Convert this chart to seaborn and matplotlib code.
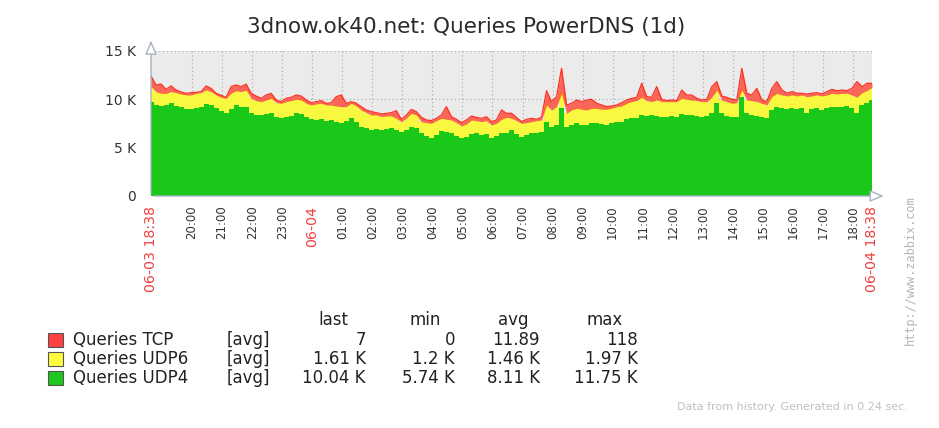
import pandas as pd
import seaborn as sns
import matplotlib.pyplot as plt
from matplotlib.patches import Rectangle

# values in thousands of queries, one every 10 minutes from 06-03 18:38
udp4_k = [
    9.76, 9.41, 9.31, 9.41, 9.59, 9.31, 9.17, 8.97, 8.97, 9.07,
    9.17, 9.52, 9.41, 9.07, 8.83, 8.55, 8.97, 9.41, 9.24, 9.24,
    8.55, 8.38, 8.38, 8.48, 8.62, 8.14, 8.04, 8.21, 8.28, 8.55,
    8.48, 8.14, 7.93, 7.86, 7.93, 7.79,
    7.86, 7.69, 7.52, 7.79, 8.04, 7.69, 7.17, 7.00, 6.83, 6.90,
    6.83, 6.90, 7.00, 6.83, 6.66, 6.83, 7.17, 7.00, 6.48, 6.21,
    5.97, 6.31, 6.76, 6.66, 6.48, 6.21, 5.97, 6.14, 6.41, 6.48,
    6.31, 6.41, 5.97, 6.21, 6.48, 6.55,
    6.83, 6.41, 6.14, 6.31, 6.48, 6.55, 6.66, 7.69, 7.17, 7.35,
    9.07, 7.17, 7.35, 7.52, 7.35, 7.35, 7.52, 7.52, 7.45, 7.35,
    7.52, 7.69, 7.69, 7.93, 8.04, 8.04, 8.38, 8.28, 8.38, 8.28,
    8.21, 8.21, 8.28, 8.14, 8.48, 8.38,
    8.38, 8.28, 8.21, 8.28, 8.55, 9.59, 8.55, 8.28, 8.14, 8.21,
    10.28, 8.55, 8.38, 8.28, 8.14, 8.04, 8.90, 9.24, 9.07, 8.97,
    9.07, 8.97, 9.07, 8.55, 8.97, 9.07, 8.90, 9.07, 9.24, 9.17,
    9.24, 9.31, 9.07, 8.55, 9.41, 9.59, 9.93,
]
udp6_k = [
    1.55, 1.38, 1.31, 1.21, 1.21, 1.38, 1.38, 1.48, 1.48, 1.55,
    1.52, 1.45, 1.38, 1.38, 1.38, 1.55, 1.66, 1.48, 1.55, 1.72,
    1.55, 1.48, 1.38, 1.45, 1.48, 1.52, 1.55, 1.55, 1.59, 1.45,
    1.45, 1.45, 1.48, 1.66, 1.66, 1.62,
    1.55, 1.62, 1.72, 1.45, 1.55, 1.62, 1.72, 1.62, 1.55, 1.48,
    1.38, 1.38, 1.28, 1.21, 1.03, 1.21, 1.38, 1.38, 1.21, 1.38,
    1.55, 1.48, 1.28, 1.28, 1.38, 1.38, 1.28, 1.31, 1.45, 1.31,
    1.38, 1.38, 1.38, 1.31, 1.45, 1.59,
    1.21, 1.38, 1.38, 1.28, 1.21, 1.24, 1.21, 1.72, 1.72, 1.90,
    1.55, 1.38, 1.55, 1.55, 1.62, 1.55, 1.55, 1.55, 1.52, 1.62,
    1.55, 1.55, 1.62, 1.66, 1.72, 1.83, 1.83, 1.59, 1.38, 1.66,
    1.55, 1.55, 1.48, 1.62, 1.62, 1.62,
    1.55, 1.59, 1.55, 1.48, 1.66, 1.38, 1.38, 1.48, 1.45, 1.45,
    0.69, 1.38, 1.48, 1.48, 1.45, 1.38, 1.38, 1.38, 1.38, 1.38,
    1.38, 1.38, 1.38, 1.72, 1.38, 1.38, 1.45, 1.38, 1.38, 1.38,
    1.38, 1.31, 1.38, 1.66, 1.28, 1.31, 1.31,
]
# how far the red TCP edge peaks above the averaged stack
tcp_peak_k = [
    1.10, 0.69, 0.97, 0.41, 0.59, 0.28, 0.21, 0.17, 0.24, 0.10,
    0.10, 0.41, 0.34, 0.17, 0.21, 0.10, 0.69, 0.59, 0.52, 0.62,
    0.52, 0.48, 0.34, 0.52, 0.52, 0.28, 0.17, 0.34, 0.34, 0.45,
    0.41, 0.34, 0.24, 0.24, 0.28, 0.17,
    0.24, 0.97, 1.21, 0.34, 0.17, 0.28, 0.34, 0.28, 0.34, 0.24,
    0.28, 0.28, 0.34, 0.79, 0.24, 0.34, 0.41, 0.34, 0.45, 0.28,
    0.28, 0.24, 0.34, 1.31, 0.34, 0.34, 0.34, 0.41, 0.41, 0.34,
    0.34, 0.41, 0.34, 0.34, 0.97, 0.41,
    0.52, 0.34, 0.17, 0.34, 0.34, 0.14, 0.28, 1.48, 0.86, 1.03,
    2.59, 0.86, 0.69, 0.86, 0.79, 1.03, 0.93, 0.52, 0.45, 0.28,
    0.24, 0.17, 0.34, 0.34, 0.34, 0.34, 1.45, 0.41, 0.45, 1.38,
    0.24, 0.10, 0.17, 0.10, 0.86, 0.45,
    0.52, 0.24, 0.17, 0.24, 1.10, 0.86, 0.41, 0.45, 0.41, 0.28,
    2.24, 0.69, 0.59, 1.38, 0.34, 0.34, 0.86, 1.21, 0.52, 0.28,
    0.34, 0.28, 0.17, 0.28, 0.28, 0.24, 0.21, 0.34, 0.41, 0.34,
    0.34, 0.28, 0.69, 1.62, 0.62, 0.76, 0.41,
]

legend_names = ["Queries TCP", "Queries UDP6", "Queries UDP4"]
legend_colors = ["#ff4040", "#ffff40", "#1ec81e"]
legend_cols = ["last", "min", "avg", "max"]
legend_vals = [
    ["7", "0", "11.89", "118"],
    ["1.61 K", "1.2 K", "1.46 K", "1.97 K"],
    ["10.04 K", "5.74 K", "8.11 K", "11.75 K"],
]
y_ticks = [0, 5, 10, 15]
y_labels = ["0", "5 K", "10 K", "15 K"]

start = pd.Timestamp("2015-06-03 18:38")
end = pd.Timestamp("2015-06-04 18:38")
df = pd.DataFrame({
    "time": pd.date_range(start, periods=len(udp4_k), freq="10min"),
    "udp4": udp4_k,
    "udp6": udp6_k,
    "tcp": tcp_peak_k,
})
df["s1"] = df["udp4"]
df["s2"] = df["s1"] + df["udp6"]
df["s3"] = df["s2"] + df["tcp"]

sns.set_theme(style="white")
plt.rcParams["font.family"] = ["DejaVu Sans"]

W, H = 939, 428
fig = plt.figure(figsize=(W / 100, H / 100), dpi=100)
ax = fig.add_axes([151 / W, 1 - 196 / H, 721 / W, 145 / H])
ax.set_facecolor("#ebebeb")

ax.fill_between(df["time"], 0, df["s1"], step="mid", color="#1ac81a", lw=0)
ax.fill_between(df["time"], df["s1"], df["s2"], step="mid", color="#f8f840", lw=0)
ax.fill_between(df["time"], df["s2"], df["s3"], color="#ff3a2a", lw=0, alpha=0.75)
sns.lineplot(data=df, x="time", y="s3", ax=ax, color="#ff3020", lw=0.9, legend=False)

ax.set_xlim(start, end)
ax.set_ylim(0, 15)
ax.set_xlabel("")
ax.set_ylabel("")

hours = pd.date_range("2015-06-03 20:00", "2015-06-04 18:00", freq="h")
for h in hours:
    ax.axvline(h, color="#a8a8a8", lw=0.8, ls=(0, (1, 2.5)), zorder=0.5)
ax.axvline(end, color="#a8a8a8", lw=0.8, ls=(0, (1, 2.5)), zorder=0.5)
for v in [5, 10, 15]:
    ax.axhline(v, color="#a8a8a8", lw=0.8, ls=(0, (1, 2.5)), zorder=0.5)

ticks = [start] + list(hours) + [end]
labels = ["06-03 18:38"] + ["06-04" if h.hour == 0 else h.strftime("%H:%M") for h in hours] + ["06-04 18:38"]
ax.set_xticks(ticks)
ax.set_xticklabels(labels, rotation=90, va="top", ha="center", fontsize=8.5, color="#333333")
for lab, t in zip(ax.get_xticklabels(), ticks):
    if t in (start, end) or t.hour == 0 and t.minute == 0:
        lab.set_color("#f04040")
        lab.set_fontsize(10.2)
ax.tick_params(axis="x", length=0, pad=7)

ax.set_yticks(y_ticks)
ax.set_yticklabels(y_labels, fontsize=10, color="#333333")
ax.tick_params(axis="y", length=0, pad=11)

for s in ax.spines.values():
    s.set_visible(False)

axis_col = "#a6b2c2"
arrow = dict(arrowstyle="-|>,head_length=0.7,head_width=0.3", color=axis_col, fc="white", lw=1)
ax.annotate("", xy=(0, 1.09), xytext=(0, 0), xycoords="axes fraction", arrowprops=arrow, annotation_clip=False)
ax.annotate("", xy=(1.02, 0), xytext=(0, 0), xycoords="axes fraction", arrowprops=arrow, annotation_clip=False)

fig.text(466 / W, 1 - 27 / H, "3dnow.ok40.net: Queries PowerDNS (1d)",
         ha="center", va="center", fontsize=15.5, color="#2a2a2a")

fig.text(910 / W, 1 - 195 / H, "http://www.zabbix.com", rotation=90, ha="center", va="top",
         fontsize=8.6, color="#b4b4b4", family="DejaVu Sans Mono")

# legend table
col_right = [366, 455, 540, 638]
col_head = [333, 425, 513, 605]
for x, name in zip(col_head, legend_cols):
    fig.text(x / W, 1 - 320 / H, name, ha="center", va="center", fontsize=12, color="#222222")
for i, (name, color, vals) in enumerate(zip(legend_names, legend_colors, legend_vals)):
    y = 340 + 19 * i
    fig.add_artist(Rectangle((48 / W, 1 - (y + 7) / H), 15 / W, 14 / H, transform=fig.transFigure,
                             fc=color, ec="#555555", lw=0.8))
    fig.text(73 / W, 1 - y / H, name, ha="left", va="center", fontsize=12, color="#222222")
    fig.text(227 / W, 1 - y / H, "[avg]", ha="left", va="center", fontsize=12, color="#222222")
    for x, v in zip(col_right, vals):
        fig.text(x / W, 1 - y / H, v, ha="right", va="center", fontsize=12, color="#222222")

fig.text(908 / W, 1 - 407 / H, "Data from history. Generated in 0.24 sec.", ha="right", va="center",
         fontsize=8, color="#c0c0c0")

fig.savefig("out.png", dpi=100)
